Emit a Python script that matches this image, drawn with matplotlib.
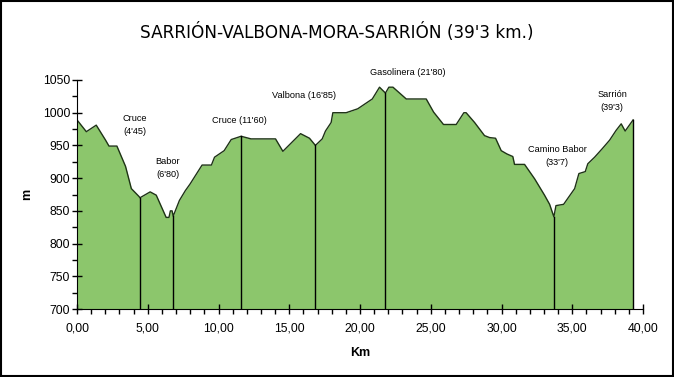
import matplotlib
matplotlib.use("Agg")
import matplotlib.pyplot as plt
from matplotlib.ticker import MultipleLocator, FuncFormatter
import numpy as np

# profile (km, m)
km = [0.0, 0.66, 1.36, 2.02, 2.26, 2.82, 3.43, 3.84, 4.38, 4.45, 5.17, 5.6, 6.3, 6.5,
      6.6, 6.72, 6.8, 7.24, 7.66, 7.99, 8.84, 9.5, 9.72, 10.4, 10.9, 11.6, 12.3,
      14.03, 14.55, 15.8, 16.43, 16.85, 17.33, 17.56, 17.96, 18.08, 19.02, 19.84,
      20.87, 21.38, 21.8, 22.04, 22.33, 23.27, 24.68, 25.2, 25.9, 26.8, 27.34, 27.5,
      28.1, 28.8, 29.16, 29.58, 29.98, 30.38, 30.8, 30.92, 31.63, 32.34, 33.04,
      33.4, 33.7, 33.85, 34.39, 35.17, 35.47, 35.92, 36.1, 36.58, 37.12, 37.64,
      38.1, 38.46, 38.74, 39.3]
alt = [989, 971, 981, 958, 949, 949, 918, 884, 872, 870, 879, 874, 840, 840,
       850, 850, 842, 866, 881, 891, 920, 920, 932, 942, 959, 964, 960,
       960, 941, 968, 961, 950, 960, 972, 985, 1000, 1000, 1006,
       1021, 1039, 1030, 1039, 1039, 1021, 1021, 1001, 982, 982, 1000, 1000,
       985, 965, 962, 961, 942, 937, 933, 921, 921, 899, 874,
       860, 841, 858, 860, 884, 907, 910, 922, 932, 945, 958,
       973, 983, 972, 989]

puntos_km = [4.45, 6.80, 11.60, 16.85, 21.80, 33.7, 39.3]
etiquetas = ["Cruce\n(4'45)", "Babor\n(6'80)", "Cruce (11'60)", "Valbona (16'85)",
             "Gasolinera (21'80)", "Camino Babor\n(33'7)", "Sarrión\n(39'3)"]
etiq_x = [4.07, 6.40, 11.49, 16.01, 23.36, 33.94, 37.83]
etiq_y = [981, 916, 988, 1026, 1061, 934, 1018]

fig = plt.figure(figsize=(6.74, 3.77), dpi=100)
ax = fig.add_axes([77 / 674, 1 - 309 / 377, 566 / 674, 229 / 377])

ax.fill_between(km, 700, alt, color="#8cc66c", linewidth=0)
ax.plot(km, alt, color="#1e3316", linewidth=1)
for p in puntos_km:
    ax.plot([p, p], [700, np.interp(p, km, alt)], color="black", linewidth=1)

for t, x, y in zip(etiquetas, etiq_x, etiq_y):
    ax.text(x, y, t, ha="center", va="center", fontsize=6.6, family="Liberation Sans",
            linespacing=1.55, clip_on=False)

ax.set_xlim(0, 40)
ax.set_ylim(700, 1050)
ax.xaxis.set_major_locator(MultipleLocator(5))
ax.xaxis.set_minor_locator(MultipleLocator(1))
ax.yaxis.set_major_locator(MultipleLocator(50))
ax.yaxis.set_minor_locator(MultipleLocator(25))
ax.xaxis.set_major_formatter(FuncFormatter(lambda v, p: ("%.2f" % v).replace(".", ",")))
ax.tick_params(which="major", direction="inout", length=7, width=1, labelsize=8.8)
ax.tick_params(which="minor", direction="out", length=3.5, width=1)
ax.tick_params(axis="x", which="major", pad=6)
ax.tick_params(axis="y", which="major", pad=1.5)
for lab in ax.get_xticklabels() + ax.get_yticklabels():
    lab.set_family("Liberation Sans")
ax.spines["top"].set_visible(False)
ax.spines["right"].set_visible(False)

ax.set_xlabel("Km", fontsize=9, fontweight="bold", family="Liberation Sans", labelpad=9)
ax.set_ylabel("m", fontsize=9, fontweight="bold", family="Liberation Sans", labelpad=7)

fig.text(0.5, 1 - 32 / 377, "SARRIÓN-VALBONA-MORA-SARRIÓN (39'3 km.)", ha="center",
         va="center", fontsize=12.2)

fig.patches.append(plt.Rectangle((0.001, 0.002), 0.997, 0.996, transform=fig.transFigure,
                                 fill=False, edgecolor="black", linewidth=1.5))

fig.savefig("out.png", dpi=100)
